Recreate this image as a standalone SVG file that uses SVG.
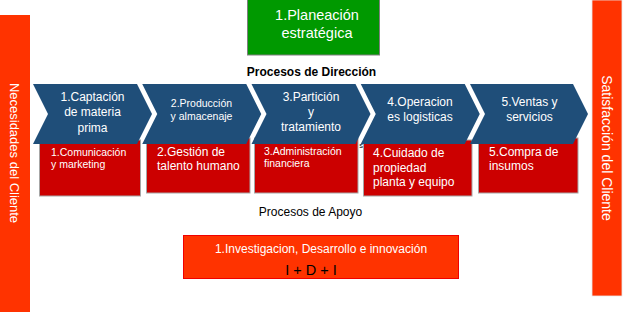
<svg xmlns="http://www.w3.org/2000/svg" width="624" height="312" viewBox="0 0 624 312">
<style>
text{font-family:"Liberation Sans",Arial,sans-serif}
.bar{fill:#FF3300}
.barTxt{fill:#fff;font-size:13px;text-anchor:middle}
.chev{fill:#1F4E79}
.cTxt{fill:#fff;font-size:12px;text-anchor:middle}
.box{fill:#CC0000;stroke:#A6A6A6;stroke-width:1}
.bTxt{fill:#fff;font-size:12px}
.lbl{fill:#000}
</style>
<rect width="624" height="312" fill="#fff"/>

<g id="necesidades">
<rect class="bar" x="0" y="15" width="30" height="297"/>
<text class="barTxt" transform="translate(15,153) rotate(90)" dy="0.35em">Necesidades del Cliente</text>
</g>

<g id="satisfaccion">
<rect class="bar" x="592" y="0" width="30" height="296" stroke="#E8E8E8" stroke-width="0.8"/>
<text class="barTxt" style="font-size:14px" transform="translate(607,148) rotate(90)" dy="0.35em">Satisfacción del Cliente</text>
</g>

<g id="planeacion">
<rect x="247.5" y="-1" width="132" height="56" fill="#009900" stroke="#7F7F7F" stroke-width="1"/>
<text x="317" y="20.2" fill="#fff" font-size="14.5" text-anchor="middle">1.Planeación</text>
<text x="317" y="38.2" fill="#fff" font-size="14.5" text-anchor="middle">estratégica</text>
</g>

<g id="lbl-direccion">
<text class="lbl" x="311.5" y="76.3" font-size="12" font-weight="bold" text-anchor="middle">Procesos de Dirección</text>
</g>

<g id="apoyo1">
<rect class="box" x="39.5" y="140" width="101" height="56"/>
<text class="bTxt" style="font-size:10.5px" x="51" y="155.8">1.Comunicación</text>
<text class="bTxt" style="font-size:10.5px" x="51" y="167.8">y marketing</text>
</g>
<g id="apoyo2">
<rect class="box" x="146.5" y="138" width="103.5" height="55"/>
<text class="bTxt" x="157" y="156.3">2.Gestión de</text>
<text class="bTxt" x="157" y="170.3">talento humano</text>
</g>
<g id="apoyo3">
<rect class="box" x="254.5" y="138" width="103.5" height="55"/>
<text class="bTxt" style="font-size:10.5px" x="264" y="154.5">3.Administración</text>
<text class="bTxt" style="font-size:10.5px" x="264" y="167">financiera</text>
</g>
<g id="apoyo4">
<rect class="box" x="363.5" y="140" width="108.5" height="56"/>
<text class="bTxt" x="373" y="157">4.Cuidado de</text>
<text class="bTxt" x="373" y="171.6">propiedad</text>
<text class="bTxt" x="373" y="186.4">planta y equipo</text>
</g>
<g id="apoyo5">
<rect class="box" x="478.5" y="138" width="99.5" height="55"/>
<text class="bTxt" x="489" y="156">5.Compra de</text>
<text class="bTxt" x="489" y="170">insumos</text>
</g>

<text x="361" y="148" font-size="7.5" fill="#000" text-anchor="middle">s</text>

<g id="chev1">
<polygon class="chev" points="33,84 137,84 152,114 137,144 33,144 48,114"/>
<text class="cTxt" x="92.5" y="100.5">1.Captación</text>
<text class="cTxt" x="92.5" y="116">de materia</text>
<text class="cTxt" x="92.5" y="131.5">prima</text>
</g>
<g id="chev2">
<polygon class="chev" points="142.25,84 246.25,84 261.25,114 246.25,144 142.25,144 157.25,114"/>
<text class="cTxt" style="font-size:10.5px" x="201.5" y="107">2.Producción</text>
<text class="cTxt" style="font-size:10.5px" x="201.5" y="120">y almacenaje</text>
</g>
<g id="chev3">
<polygon class="chev" points="251.5,84 355.5,84 370.5,114 355.5,144 251.5,144 266.5,114"/>
<text class="cTxt" x="311" y="101">3.Partición</text>
<text class="cTxt" x="311" y="116">y</text>
<text class="cTxt" x="311" y="131">tratamiento</text>
</g>
<g id="chev4">
<polygon class="chev" points="360.75,84 464.75,84 479.75,114 464.75,144 360.75,144 375.75,114"/>
<text class="cTxt" x="420" y="106.3">4.Operacion</text>
<text class="cTxt" x="420" y="121.3">es logisticas</text>
</g>
<g id="chev5">
<polygon class="chev" points="470,84 573,84 588,114 573,144 470,144 485,114"/>
<text class="cTxt" x="529.5" y="106.3">5.Ventas y</text>
<text class="cTxt" x="529.5" y="121.3">servicios</text>
</g>

<g id="lbl-apoyo">
<text class="lbl" x="310.5" y="216" font-size="12" text-anchor="middle">Procesos de Apoyo</text>
</g>

<g id="idi">
<rect x="183.5" y="235.5" width="275" height="43" fill="#FF3300" stroke="#F00000" stroke-width="1"/>
<text x="321" y="252.6" fill="#fff" font-size="12" text-anchor="middle">1.Investigacion, Desarrollo e innovación</text>
<text x="311" y="275.2" fill="#000" font-size="14.5" text-anchor="middle">I + D + I</text>
</g>

<g id="connectors"></g>
</svg>
